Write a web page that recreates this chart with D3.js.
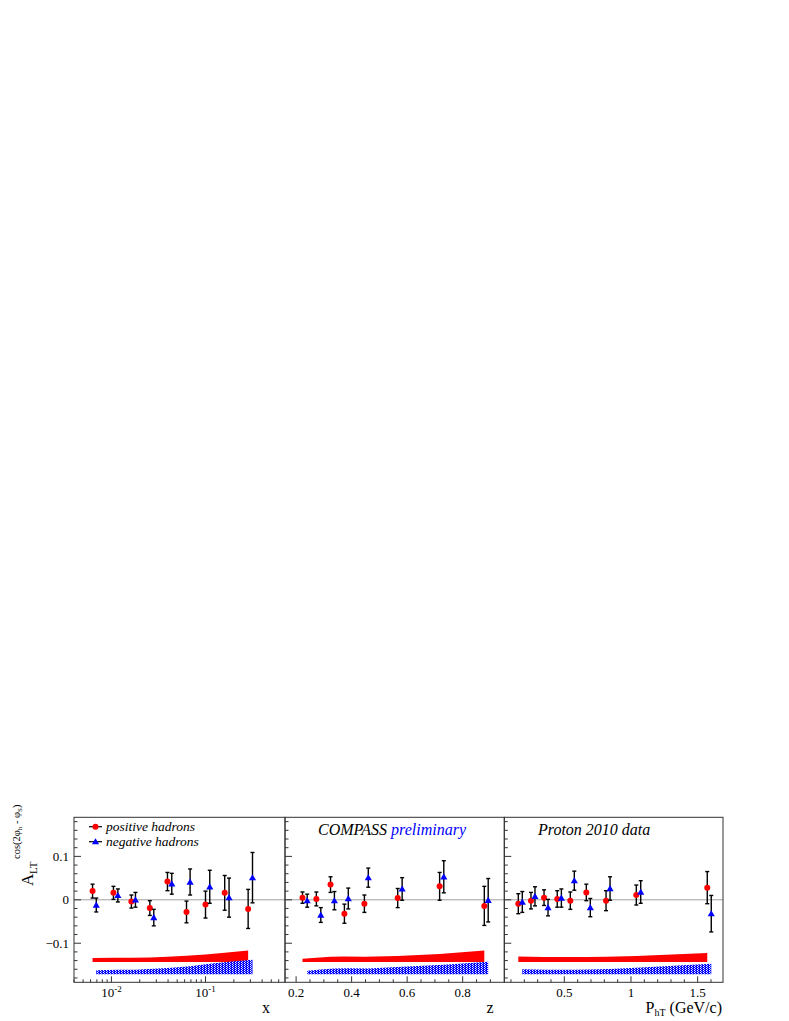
<!DOCTYPE html>
<html>
<head>
<meta charset="utf-8">
<script src="https://cdn.jsdelivr.net/npm/d3@7"></script>
<style>
  body { margin: 0; background: #fff; }
  svg text { font-family: "Liberation Serif", "DejaVu Serif", serif; }
</style>
</head>
<body>
<div id="chart"></div>
<script>
// ---- data ----
// panel 1 : x (log)
var xPosX   = [0.0063, 0.0105, 0.0163, 0.0256, 0.0394, 0.0628, 0.100, 0.160, 0.284];
var xPosA   = [0.020, 0.016, -0.004, -0.019, 0.042, -0.028, -0.011, 0.016, -0.021];
var xPosErr = [0.016, 0.015, 0.015, 0.017, 0.021, 0.025, 0.031, 0.040, 0.045];
var xPosSys = [0.0092, 0.0099, 0.0099, 0.0106, 0.0122, 0.0145, 0.0175, 0.0214, 0.0267];
var xNegX   = [0.0069, 0.0117, 0.0180, 0.0282, 0.0438, 0.0686, 0.111, 0.178, 0.316];
var xNegA   = [-0.012, 0.010, 0.000, -0.041, 0.037, 0.041, 0.030, 0.005, 0.051];
var xNegErr = [0.016, 0.015, 0.017, 0.019, 0.024, 0.030, 0.038, 0.045, 0.058];
var xNegSys = [0.0092, 0.0099, 0.0099, 0.0122, 0.0145, 0.0184, 0.0237, 0.0283, 0.0330];

// panel 2 : z
var zPosX   = [0.223, 0.273, 0.324, 0.374, 0.446, 0.566, 0.717, 0.878];
var zPosA   = [0.005, 0.002, 0.035, -0.032, -0.009, 0.004, 0.031, -0.014];
var zPosErr = [0.013, 0.016, 0.018, 0.022, 0.020, 0.022, 0.032, 0.045];
var zPosSys = [0.0076, 0.0099, 0.0122, 0.0129, 0.0122, 0.0138, 0.0184, 0.0267];
var zNegX   = [0.240, 0.289, 0.338, 0.388, 0.460, 0.582, 0.732, 0.892];
var zNegA   = [-0.002, -0.035, -0.002, 0.003, 0.051, 0.025, 0.053, -0.001];
var zNegErr = [0.015, 0.017, 0.021, 0.024, 0.022, 0.026, 0.037, 0.050];
var zNegSys = [0.0076, 0.0106, 0.0129, 0.0138, 0.0129, 0.0168, 0.0214, 0.0283];

// panel 3 : PhT
var pPosX   = [0.155, 0.250, 0.348, 0.447, 0.545, 0.665, 0.813, 1.040, 1.572];
var pPosA   = [-0.009, -0.002, 0.005, 0.002, -0.002, 0.017, -0.002, 0.011, 0.028];
var pPosErr = [0.023, 0.019, 0.018, 0.019, 0.020, 0.019, 0.023, 0.023, 0.037];
var pPosSys = [0.0129, 0.0122, 0.0115, 0.0115, 0.0115, 0.0118, 0.0122, 0.0138, 0.0207];
var pNegX   = [0.185, 0.280, 0.378, 0.478, 0.575, 0.695, 0.843, 1.073, 1.602];
var pNegA   = [-0.005, 0.008, -0.018, 0.004, 0.044, -0.018, 0.026, 0.018, -0.032];
var pNegErr = [0.024, 0.022, 0.019, 0.021, 0.022, 0.021, 0.027, 0.026, 0.042];
var pNegSys = [0.0115, 0.0108, 0.0100, 0.0100, 0.0100, 0.0108, 0.0118, 0.0152, 0.0237];

// baselines of the systematic bands
var posSysBase = -0.1435;
var negSysBase = -0.1712;

var yTicks = [-0.1, 0, 0.1];
var legendLabels = ["positive hadrons", "negative hadrons"];

var width = 789, height = 1021;
var top_y = 817.3, bottom_y = 982.3;
var red = "#ff0000", blue = "#0000ff";
var serif = "'Liberation Serif', 'DejaVu Serif', serif";

var svg = d3.select("#chart")
   .append("svg")
   .attr("width", width)
   .attr("height", height)
   .attr("font-family", serif);

// dotted fill like the ROOT hatch style
var pat = svg.append("defs").append("pattern")
   .attr("id", "dots")
   .attr("width", 3).attr("height", 2)
   .attr("patternUnits", "userSpaceOnUse");
pat.append("rect").attr("width", 3).attr("height", 2).attr("fill", blue);
pat.append("rect").attr("x", 1).attr("y", 0).attr("width", 1).attr("height", 1).attr("fill", "#ffffff");
pat.append("rect").attr("x", 2).attr("y", 1).attr("width", 1).attr("height", 1).attr("fill", "#b0b8ff");

var y = d3.scaleLinear().domain([-0.19, 0.19]).range([bottom_y, top_y]);

var panels = [
   {
      x: d3.scaleLog().domain([0.004, 0.7]).range([74, 285]),
      pos: [xPosX, xPosA, xPosErr, xPosSys], neg: [xNegX, xNegA, xNegErr, xNegSys],
      major: [0.01, 0.1], log: true, title: "x", titleX: 266
   },
   {
      x: d3.scaleLinear().domain([0.16, 0.95]).range([285, 504.3]),
      pos: [zPosX, zPosA, zPosErr, zPosSys], neg: [zNegX, zNegA, zNegErr, zNegSys],
      major: [0.2, 0.4, 0.6, 0.8], minorStep: 0.05, title: "z", titleX: 490
   },
   {
      x: d3.scaleLinear().domain([0.05, 1.69]).range([504.3, 723]),
      pos: [pPosX, pPosA, pPosErr, pPosSys], neg: [pNegX, pNegA, pNegErr, pNegSys],
      major: [0.5, 1, 1.5], minorStep: 0.1, title: null
   }
];

panels.forEach(function (p) {
   var x = p.x;
   var x0 = x.range()[0], x1 = x.range()[1];
   var g = svg.append("g");

   // zero line
   g.append("line")
      .attr("x1", x0).attr("x2", x1)
      .attr("y1", y(0)).attr("y2", y(0))
      .style("stroke", "#a0a0a0").style("stroke-width", 1);

   // systematic bands
   var posBand = p.pos[0].map(function (v, i) { return [v, p.pos[3][i]]; });
   var negBand = p.neg[0].map(function (v, i) { return [v, p.neg[3][i]]; });

   var area = function (base) {
      return d3.area()
         .x(function (d) { return x(d[0]); })
         .y0(function () { return y(base); })
         .y1(function (d) { return y(base + d[1]); });
   };
   g.append("path").attr("d", area(posSysBase)(posBand)).attr("fill", red);
   g.append("path").attr("d", area(negSysBase)(negBand)).attr("fill", "url(#dots)");

   // error bars + markers
   function drawSeries(s, isNeg) {
      var pts = s[0].map(function (v, i) { return { x: v, a: s[1][i], e: s[2][i] }; });
      var eg = g.append("g").style("stroke", "#000").style("stroke-width", 1.4);
      pts.forEach(function (d) {
         var cx = x(d.x);
         eg.append("line").attr("x1", cx).attr("x2", cx).attr("y1", y(d.a - d.e)).attr("y2", y(d.a + d.e));
         eg.append("line").attr("x1", cx - 2).attr("x2", cx + 2).attr("y1", y(d.a - d.e)).attr("y2", y(d.a - d.e));
         eg.append("line").attr("x1", cx - 2).attr("x2", cx + 2).attr("y1", y(d.a + d.e)).attr("y2", y(d.a + d.e));
      });
      if (isNeg) {
         g.selectAll(null).data(pts).enter().append("path")
            .attr("d", d3.symbol(d3.symbolTriangle).size(22))
            .attr("transform", function (d) { return "translate(" + x(d.x) + "," + (y(d.a) + 0.6) + ")"; })
            .attr("fill", blue);
      } else {
         g.selectAll(null).data(pts).enter().append("circle")
            .attr("cx", function (d) { return x(d.x); })
            .attr("cy", function (d) { return y(d.a); })
            .attr("r", 3)
            .attr("fill", red);
      }
   }
   drawSeries(p.pos, false);
   drawSeries(p.neg, true);

   // frame
   g.append("rect")
      .attr("x", x0).attr("y", top_y)
      .attr("width", x1 - x0).attr("height", bottom_y - top_y)
      .attr("fill", "none").style("stroke", "#333").style("stroke-width", 1);

   // y ticks (left side, pointing inward)
   var yt = g.append("g").style("stroke", "#333").style("stroke-width", 1);
   d3.range(-0.18, 0.1801, 0.02).forEach(function (v) {
      var major = Math.abs(Math.round(v * 50) % 5) === 0;
      yt.append("line")
         .attr("x1", x0).attr("x2", x0 + (major ? 7 : 3.5))
         .attr("y1", y(v)).attr("y2", y(v));
   });

   // x ticks (bottom, pointing up)
   var xt = g.append("g").style("stroke", "#333").style("stroke-width", 1);
   var minors = [];
   if (p.log) {
      [0.001, 0.01, 0.1].forEach(function (dec) {
         d3.range(1, 10).forEach(function (k) { minors.push(dec * k); });
      });
   } else {
      minors = d3.range(0, 2, p.minorStep);
   }
   minors.forEach(function (v) {
      if (v < x.domain()[0] || v > x.domain()[1]) return;
      var isMajor = p.major.some(function (m) { return Math.abs(m - v) < 1e-6; });
      xt.append("line")
         .attr("x1", x(v)).attr("x2", x(v))
         .attr("y1", bottom_y).attr("y2", bottom_y - (isMajor ? 6 : 3));
   });

   // x tick labels
   p.major.forEach(function (v) {
      var t = g.append("text")
         .attr("x", x(v)).attr("y", 997)
         .attr("text-anchor", "middle")
         .style("font-size", "13px");
      if (p.log) {
         t.append("tspan").text("10");
         t.append("tspan").attr("dy", -5).style("font-size", "9px").text(v === 0.01 ? "-2" : "-1");
      } else {
         t.text(d3.format("")(v));
      }
   });

   // axis titles
   if (p.title) {
      g.append("text")
         .attr("x", p.titleX).attr("y", 1013)
         .attr("text-anchor", "middle")
         .style("font-size", "16px")
         .text(p.title);
   }
});

// P_hT title
var pt = svg.append("text")
   .attr("x", 722).attr("y", 1013)
   .attr("text-anchor", "end")
   .style("font-size", "16px");
pt.append("tspan").text("P");
pt.append("tspan").attr("dy", 3).style("font-size", "10px").text("hT");
pt.append("tspan").attr("dy", -3).text(" (GeV/c)");

// y tick labels
yTicks.forEach(function (v) {
   svg.append("text")
      .attr("x", 69).attr("y", y(v) + 4.5)
      .attr("text-anchor", "end")
      .style("font-size", "13px")
      .text(v === 0 ? "0" : d3.format(".1f")(v));
});

// y axis title
var ytl = svg.append("g").attr("transform", "translate(33,886) rotate(-90)");
ytl.append("text").attr("x", 0).attr("y", 0).style("font-size", "17px").text("A");
ytl.append("text").attr("x", 12).attr("y", 3.5).style("font-size", "11px").text("LT");
var sup = ytl.append("text").attr("x", 27).attr("y", -13).style("font-size", "10.5px");
sup.append("tspan").text("cos(2φ");
sup.append("tspan").attr("dy", 2).style("font-size", "7px").text("h");
sup.append("tspan").attr("dy", -2).text(" - φ");
sup.append("tspan").attr("dy", 2).style("font-size", "7px").text("S");
sup.append("tspan").attr("dy", -2).text(")");

// legend
var legY = [826.7, 841.7];
legendLabels.forEach(function (lab, i) {
   svg.append("line")
      .attr("x1", 89).attr("x2", 102)
      .attr("y1", legY[i]).attr("y2", legY[i])
      .style("stroke", "#000").style("stroke-width", 1.2);
   if (i === 0) {
      svg.append("circle").attr("cx", 95.5).attr("cy", legY[i]).attr("r", 3).attr("fill", red);
   } else {
      svg.append("path")
         .attr("d", d3.symbol(d3.symbolTriangle).size(22))
         .attr("transform", "translate(95.5," + (legY[i] + 0.6) + ")")
         .attr("fill", blue);
   }
   svg.append("text")
      .attr("x", 106).attr("y", legY[i] + 4.5)
      .style("font-size", "13.5px").style("font-style", "italic")
      .text(lab);
});

// panel captions
var cap = svg.append("text")
   .attr("x", 318).attr("y", 835)
   .style("font-size", "16px").style("font-style", "italic");
cap.append("tspan").text("COMPASS ");
cap.append("tspan").attr("fill", blue).text("preliminary");

svg.append("text")
   .attr("x", 538).attr("y", 835)
   .style("font-size", "16px").style("font-style", "italic")
   .text("Proton 2010 data");
</script>
</body>
</html>
